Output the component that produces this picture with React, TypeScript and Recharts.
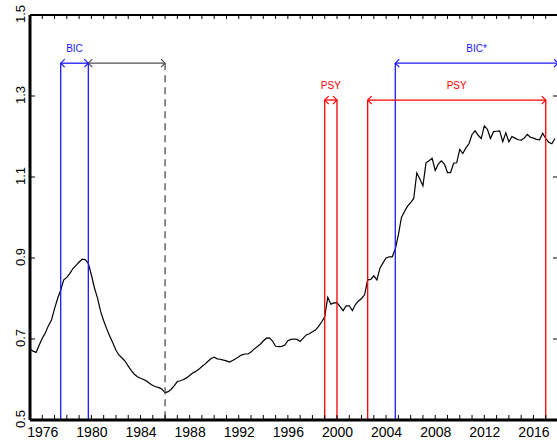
import React from "react";
import { LineChart, Line, XAxis, YAxis, ReferenceLine } from "recharts";

const START_YEAR = 1975;
// quarterly values, 1975Q1 .. 2017Q4
const ratio: number[] = [
  0.675, 0.670, 0.667, 0.685,
  0.702, 0.715, 0.733, 0.747,
  0.775, 0.800, 0.821, 0.846,
  0.852, 0.862, 0.874, 0.882,
  0.890, 0.897, 0.896, 0.887,
  0.858, 0.826, 0.801, 0.768,
  0.745, 0.725, 0.707, 0.690,
  0.672, 0.660, 0.653, 0.645,
  0.633, 0.622, 0.613, 0.607,
  0.603, 0.600, 0.596, 0.590,
  0.585, 0.582, 0.580, 0.576,
  0.567, 0.570, 0.576, 0.585,
  0.595, 0.597, 0.600, 0.604,
  0.610, 0.616, 0.620, 0.625,
  0.632, 0.638, 0.645, 0.652,
  0.655, 0.651, 0.650, 0.648,
  0.646, 0.643, 0.647, 0.651,
  0.656, 0.661, 0.663, 0.663,
  0.668, 0.675, 0.681, 0.687,
  0.695, 0.702, 0.703, 0.695,
  0.682, 0.681, 0.682, 0.685,
  0.696, 0.699, 0.700, 0.699,
  0.694, 0.702, 0.710, 0.713,
  0.718, 0.722, 0.731, 0.742,
  0.755, 0.803, 0.786, 0.789,
  0.790, 0.780, 0.770, 0.782,
  0.782, 0.770, 0.785, 0.794,
  0.800, 0.809, 0.846, 0.847,
  0.856, 0.846, 0.875, 0.888,
  0.900, 0.903, 0.903, 0.922,
  0.957, 1.000, 1.015, 1.028,
  1.037, 1.047, 1.110, 1.095,
  1.078, 1.135, 1.140, 1.146,
  1.116, 1.132, 1.140, 1.132,
  1.111, 1.111, 1.134, 1.135,
  1.168, 1.158, 1.172, 1.182,
  1.205, 1.214, 1.203, 1.195,
  1.226, 1.218, 1.195, 1.212,
  1.213, 1.214, 1.187, 1.209,
  1.187, 1.200, 1.196, 1.192,
  1.191, 1.196, 1.205, 1.198,
  1.196, 1.193, 1.192, 1.208,
  1.195, 1.186, 1.182, 1.195,
];

const yearTicks: number[] = Array.from({ length: 44 }, (_, i) => START_YEAR + i);
const yTicks: number[] = [0.5, 0.7, 0.9, 1.1, 1.3, 1.5];
const yTickLabels: string[] = ["0.5", "0.7", "0.9", "1.1", "1.3", "1.5"];

// detected episodes: [start, end]
const bicEpisode: [number, number] = [1977.5, 1979.75];
const bicExtension: [number, number] = [1979.75, 1986.0];
const bicStarEpisode: [number, number] = [2004.75, 2018.0];
const psyEpisodes: [number, number][] = [
  [1999.0, 2000.0],
  [2002.5, 2017.0],
];

const data = ratio.map((v, i) => ({ t: START_YEAR + i / 4, v }));

const FONT = "'Liberation Sans', Arial, sans-serif";
const BLUE = "#1a1aff";
const RED = "#ff0000";
const GREY = "#505050";
const BIC_LEVEL = 1.381;
const PSY_LEVEL = 1.29;

const BottomTick = (props: any) => {
  const { x, y, payload } = props;
  const v = payload.value;
  return (
    <g>
      <line x1={x} y1={y} x2={x} y2={y - 5} stroke="#000" strokeWidth={1} />
      {(v - 1976) % 4 === 0 && (
        <text x={x + 0.5} y={y + 17} textAnchor="middle" fontSize={14} fontFamily={FONT} fill="#000">
          {v}
        </text>
      )}
    </g>
  );
};

const TopTick = (props: any) => {
  const { x, y } = props;
  return <line x1={x} y1={y} x2={x} y2={y + 4} stroke="#000" strokeWidth={1} />;
};

const LeftTick = (props: any) => {
  const { x, y, payload } = props;
  const label = yTickLabels[yTicks.indexOf(payload.value)] ?? String(payload.value);
  return (
    <g>
      <line x1={x} y1={y} x2={x + 5} y2={y} stroke="#000" strokeWidth={1} />
      <text
        transform={`translate(${x - 5},${y - 1}) rotate(-90)`}
        textAnchor="middle"
        fontSize={13}
        fontFamily={FONT}
        fill="#000"
      >
        {label}
      </text>
    </g>
  );
};

const RightTick = (props: any) => {
  const { x, y } = props;
  return <line x1={x} y1={y} x2={x - 5} y2={y} stroke="#000" strokeWidth={1} />;
};

const makeArrow = (color: string) => (props: any) => {
  const { x1, y1, x2 } = props;
  const y = y1;
  const a = 4;
  return (
    <g>
      <line x1={x1} y1={y} x2={x2} y2={y} stroke={color} strokeWidth={1.3} />
      <polyline
        points={`${x1 + a},${y - a} ${x1},${y} ${x1 + a},${y + a}`}
        fill="none"
        stroke={color}
        strokeWidth={1.2}
      />
      <polyline
        points={`${x2 - a},${y - a} ${x2},${y} ${x2 - a},${y + a}`}
        fill="none"
        stroke={color}
        strokeWidth={1.2}
      />
    </g>
  );
};

const makeLabel = (text: string, color: string) => (props: any) => {
  const { x1, y1, x2 } = props;
  return (
    <g>
      {makeArrow(color)(props)}
      <text
        x={(x1 + x2) / 2}
        y={y1 - 11}
        textAnchor="middle"
        fontSize={10}
        fontFamily={FONT}
        fill={color}
      >
        {text}
      </text>
    </g>
  );
};

const vline = (t: number, top: number, color: string, key: string, dash?: string) => (
  <ReferenceLine
    key={key}
    xAxisId="bottom"
    yAxisId="left"
    segment={[
      { x: t, y: top },
      { x: t, y: 0.5 },
    ]}
    stroke={color}
    strokeWidth={1.3}
    strokeDasharray={dash}
    ifOverflow="extendDomain"
  />
);

const hArrow = (range: [number, number], level: number, shape: any, key: string) => (
  <ReferenceLine
    key={key}
    xAxisId="bottom"
    yAxisId="left"
    segment={[
      { x: range[0], y: level },
      { x: range[1], y: level },
    ]}
    shape={shape}
    ifOverflow="extendDomain"
  />
);

export default function App() {
  return (
    <div
      style={{
        position: "absolute",
        left: 0,
        top: 0,
        width: 557,
        height: 447,
        overflow: "hidden",
        background: "#fff",
      }}
    >
      <LineChart
        width={570}
        height={447}
        data={data}
        margin={{ top: 0, right: 0, bottom: 0, left: 0 }}
      >
        <XAxis
          xAxisId="bottom"
          dataKey="t"
          type="number"
          domain={[1975, 2018]}
          ticks={yearTicks}
          interval={0}
          height={27}
          tickSize={0}
          tickMargin={0}
          tickLine={false}
          axisLine={{ stroke: "#000", strokeWidth: 3 }}
          tick={<BottomTick />}
          allowDataOverflow
        />
        <XAxis
          xAxisId="top"
          orientation="top"
          dataKey="t"
          type="number"
          domain={[1975, 2018]}
          ticks={yearTicks}
          interval={0}
          height={15}
          tickSize={0}
          tickMargin={0}
          tickLine={false}
          axisLine={{ stroke: "#000", strokeWidth: 2 }}
          tick={<TopTick />}
          allowDataOverflow
        />
        <YAxis
          yAxisId="left"
          type="number"
          domain={[0.5, 1.5]}
          ticks={yTicks}
          interval={0}
          width={30}
          tickSize={0}
          tickMargin={0}
          tickLine={false}
          axisLine={{ stroke: "#000", strokeWidth: 3 }}
          tick={<LeftTick />}
          allowDataOverflow
        />
        <YAxis
          yAxisId="right"
          orientation="right"
          type="number"
          domain={[0.5, 1.5]}
          ticks={yTicks}
          interval={0}
          width={12}
          tickSize={0}
          tickMargin={0}
          tickLine={false}
          axisLine={false}
          tick={<RightTick />}
          allowDataOverflow
        />
        <Line
          xAxisId="bottom"
          yAxisId="left"
          dataKey="v"
          type="linear"
          stroke="#000"
          strokeWidth={1.2}
          dot={false}
          isAnimationActive={false}
        />
        {vline(bicEpisode[0], BIC_LEVEL, BLUE, "b0")}
        {vline(bicEpisode[1], BIC_LEVEL, BLUE, "b1")}
        {vline(bicExtension[1], BIC_LEVEL, GREY, "g1", "7 5")}
        {vline(bicStarEpisode[0], BIC_LEVEL, BLUE, "bs0")}
        {psyEpisodes.map((e, i) => vline(e[0], PSY_LEVEL, RED, `p${i}a`))}
        {psyEpisodes.map((e, i) => vline(e[1], PSY_LEVEL, RED, `p${i}b`))}
        {hArrow(bicExtension, BIC_LEVEL, makeArrow(GREY), "ga")}
        {hArrow(bicEpisode, BIC_LEVEL, makeLabel("BIC", BLUE), "ba")}
        {hArrow(bicStarEpisode, BIC_LEVEL, makeLabel("BIC*", BLUE), "bsa")}
        {psyEpisodes.map((e, i) => hArrow(e, PSY_LEVEL, makeLabel("PSY", RED), `pa${i}`))}
      </LineChart>
    </div>
  );
}
